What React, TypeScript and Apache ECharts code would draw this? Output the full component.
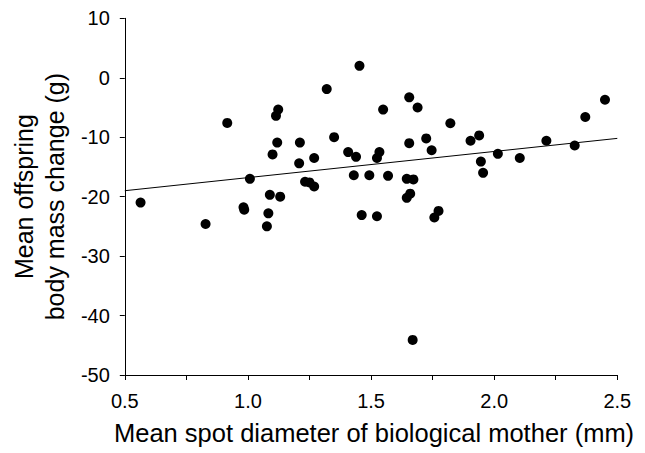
import React, { useEffect, useRef } from "react";
import * as echarts from "echarts";

const spotDiameter: number[] = [
  0.564, 0.828, 0.916, 0.982, 0.985, 1.008, 1.077, 1.083, 1.089, 1.1,
  1.114, 1.123, 1.119, 1.131, 1.208, 1.211, 1.232, 1.25, 1.269, 1.269,
  1.32, 1.35, 1.407, 1.43, 1.439, 1.453, 1.462, 1.493, 1.524, 1.534,
  1.524, 1.549, 1.569, 1.645, 1.645, 1.655, 1.655, 1.659, 1.669, 1.672,
  1.689, 1.724, 1.746, 1.757, 1.774, 1.822, 1.904, 1.939, 1.946, 1.955,
  2.015, 2.104, 2.212, 2.327, 2.37, 2.45,
];

const massChange: number[] = [
  -21.0, -24.6, -7.6, -21.8, -22.2, -17.0, -25.0, -22.8, -19.7, -12.9,
  -6.4, -5.35, -10.9, -20.0, -14.4, -10.9, -17.5, -17.6, -13.5, -18.3,
  -1.9, -10.0, -12.5, -16.4, -13.3, 2.0, -23.1, -16.4, -13.5, -12.5,
  -23.3, -5.35, -16.5, -17.0, -20.2, -3.3, -11.0, -19.5, -44.1, -17.1,
  -5.0, -10.2, -12.2, -23.5, -22.4, -7.65, -10.6, -9.7, -14.1, -16.0,
  -12.8, -13.5, -10.6, -11.4, -6.6, -3.7,
];

const trendX: number[] = [0.5, 2.5];
const trendY: number[] = [-19.0, -10.2];

const FONT = "'Liberation Sans', Arial, sans-serif";

export default function App() {
  const ref = useRef<HTMLDivElement>(null);
  useEffect(() => {
    if (!ref.current) return;
    const chart = echarts.init(ref.current, null, { renderer: "svg" });
    const points = spotDiameter.map((x, i) => [x, massChange[i]]);
    const trend = trendX.map((x, i) => [x, trendY[i]]);
    chart.setOption({
      animation: false,
      backgroundColor: "#ffffff",
      grid: { left: 123.3, right: 27.7, top: 18.3, bottom: 78 },
      xAxis: {
        type: "value",
        min: 0.5,
        max: 2.5,
        interval: 0.5,
        name: "Mean spot diameter of biological mother (mm)",
        nameLocation: "middle",
        nameGap: 45,
        nameTextStyle: { fontFamily: FONT, fontSize: 25.5, color: "#000", padding: [0, 0, 0, 6] },
        axisLine: { show: true, onZero: false, lineStyle: { color: "#000", width: 1 } },
        axisTick: { show: true, length: 5, lineStyle: { color: "#000" } },
        minorTick: { show: true, splitNumber: 2, length: 5, lineStyle: { color: "#000" } },
        axisLabel: {
          fontFamily: FONT,
          fontSize: 20,
          color: "#000",
          margin: 16,
          formatter: (v: number) => v.toFixed(1),
        },
        splitLine: { show: false },
      },
      yAxis: {
        type: "value",
        min: -50,
        max: 10,
        interval: 10,
        name: "Mean offspring\nbody mass change (g)",
        nameLocation: "middle",
        nameGap: 52,
        nameRotate: 90,
        nameTextStyle: { fontFamily: FONT, fontSize: 25, color: "#000", lineHeight: 31 },
        axisLine: { show: true, onZero: false, lineStyle: { color: "#000", width: 1 } },
        axisTick: { show: true, length: 5, lineStyle: { color: "#000" } },
        axisLabel: { fontFamily: FONT, fontSize: 20, color: "#000", margin: 15 },
        splitLine: { show: false },
      },
      series: [
        {
          type: "line",
          data: trend,
          symbol: "none",
          lineStyle: { color: "#000", width: 1 },
          silent: true,
          z: 1,
        },
        {
          type: "scatter",
          data: points,
          symbol: "circle",
          symbolSize: 10,
          itemStyle: { color: "#000", opacity: 1 },
          z: 2,
        },
      ],
    });
    return () => chart.dispose();
  }, []);
  return <div ref={ref} style={{ width: 645, height: 453, position: "absolute", left: 0, top: 0 }} />;
}
